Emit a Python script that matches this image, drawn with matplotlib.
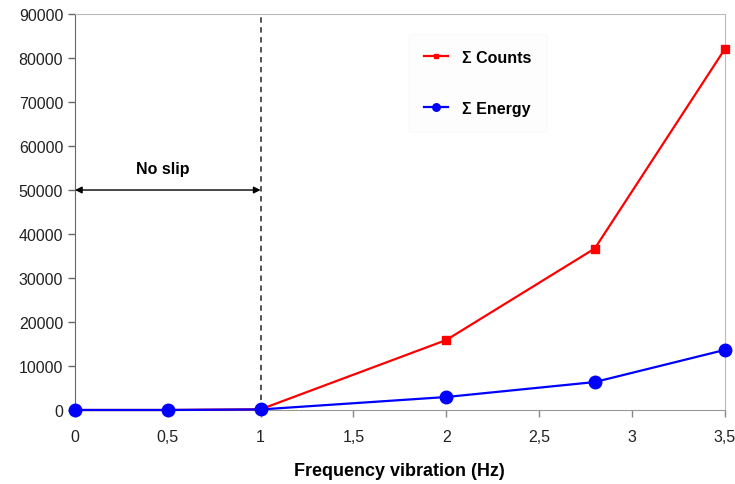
import matplotlib
matplotlib.use("Agg")
import matplotlib.pyplot as plt
from matplotlib.ticker import FuncFormatter

plt.rcParams['font.family'] = ['Liberation Sans', 'DejaVu Sans']

freq = [0, 0.5, 1, 2, 2.8, 3.5]
counts = [0, 0, 150, 15900, 36700, 82000]
energy = [0, 0, 120, 2950, 6350, 13650]
xticks = [0, 0.5, 1, 1.5, 2, 2.5, 3, 3.5]
yticks = list(range(0, 90001, 10000))

fig = plt.figure(figsize=(7.35, 4.85), dpi=100)
ax = fig.add_axes([0.102, 0.1526, 0.884, 0.8164])

ax.plot(freq, counts, color='#ff0000', marker='s', markersize=6, lw=1.6, label='Σ Counts',
        zorder=3, clip_on=False)
ax.plot(freq, energy, color='#0000ff', marker='o', markersize=9, lw=1.6, label='Σ Energy',
        zorder=4, clip_on=False)

ax.axvline(1, color='#444444', ls=(0, (3, 2.5)), lw=1.3, zorder=2)
ax.annotate('', xy=(0, 50000), xytext=(1, 50000),
            arrowprops=dict(arrowstyle='<|-|>', color='black', lw=1, mutation_scale=10,
                            shrinkA=0, shrinkB=0))
ax.text(0.475, 54800, 'No slip', ha='center', va='center', fontsize=11.5, fontweight='bold')

ax.set_xlim(0, 3.5)
ax.set_ylim(0, 90000)
ax.set_xticks(xticks)
ax.set_yticks(yticks)
fmt = FuncFormatter(lambda v, p: ('%g' % v).replace('.', ','))
ax.xaxis.set_major_formatter(fmt)
ax.yaxis.set_major_formatter(FuncFormatter(lambda v, p: '%d' % v))
ax.tick_params(axis='both', labelsize=11.5, colors='#222222', length=5, width=1)
ax.tick_params(axis='x', pad=9, colors='#888888', labelcolor='#222222')
ax.tick_params(axis='y', colors='#666666', labelcolor='#222222')
for s in ['top', 'right']:
    ax.spines[s].set_color('#bbbbbb')
ax.spines['bottom'].set_color('#999999')
ax.spines['left'].set_color('#666666')

ax.set_xlabel('Frequency vibration (Hz)', fontsize=13, fontweight='bold', labelpad=13)

leg = ax.legend(loc='upper left', bbox_to_anchor=(0.5, 0.97), frameon=True,
                prop={'weight': 'bold', 'size': 11.5}, labelspacing=2.25,
                handlelength=1.5, handletextpad=0.9, borderpad=1.0, markerscale=0.6)
leg.get_frame().set_facecolor('#fdfdfd')
leg.get_frame().set_edgecolor('#fafafa')

fig.savefig('out.png', dpi=100)
